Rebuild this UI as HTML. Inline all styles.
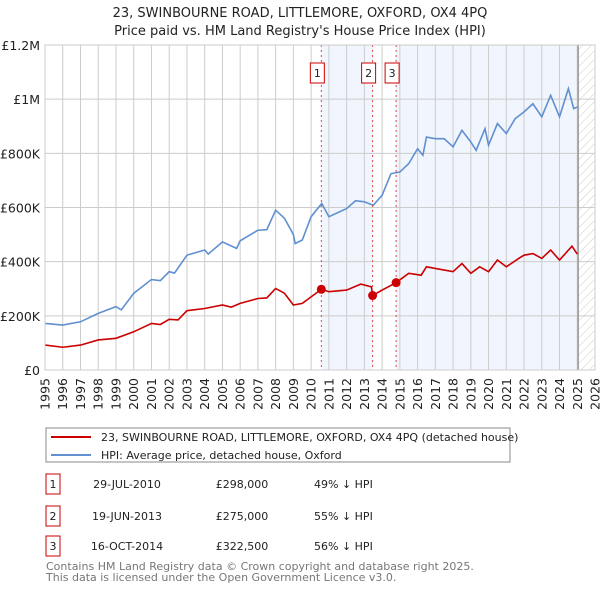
<!DOCTYPE html>
<html><head><meta charset="utf-8"><style>
body{margin:0;background:#fff;font-family:"Liberation Sans","DejaVu Sans",sans-serif;}
svg text{font-family:"DejaVu Sans","Liberation Sans",sans-serif;}
</style></head><body>
<svg id="c" width="600" height="590" xmlns="http://www.w3.org/2000/svg">
<defs><pattern id="hatch" width="6" height="6" patternUnits="userSpaceOnUse" patternTransform="rotate(45)"><line x1="0" y1="0" x2="0" y2="6" stroke="#ccc" stroke-width="1"/></pattern></defs>
<text x="300" y="17" text-anchor="middle" font-size="13" fill="#222">23, SWINBOURNE ROAD, LITTLEMORE, OXFORD, OX4 4PQ</text>
<text x="300" y="35" text-anchor="middle" font-size="13" fill="#222">Price paid vs. HM Land Registry's House Price Index (HPI)</text>
<g id="bg"></g><g id="grid"></g><g id="lines"></g><g id="marks"></g><g id="axes"></g>
<rect x="45" y="45" width="550" height="325" fill="none" stroke="#ccc"/>
<g>
<rect x="46" y="428" width="464" height="34" fill="#fff" stroke="#888"/>
<line x1="51" y1="437" x2="91" y2="437" stroke="#cc0000" stroke-width="2"/>
<text x="101" y="441" font-size="11" fill="#222">23, SWINBOURNE ROAD, LITTLEMORE, OXFORD, OX4 4PQ (detached house)</text>
<line x1="51" y1="455" x2="91" y2="455" stroke="#6090d0" stroke-width="2"/>
<text x="101" y="459" font-size="11" fill="#222">HPI: Average price, detached house, Oxford</text>
</g>
<g id="table" font-size="11" fill="#222"></g>
<text x="46" y="570" font-size="11" fill="#777">Contains HM Land Registry data © Crown copyright and database right 2025.</text>
<text x="46" y="581" font-size="11" fill="#777">This data is licensed under the Open Government Licence v3.0.</text>
</svg>
<script>
const hpiYears=[1995,1996,1997,1998,1999,1999.3,2000,2001,2001.5,2002,2002.3,2003,2004,2004.2,2005,2005.8,2006,2007,2007.5,2008,2008.5,2009,2009.1,2009.5,2010,2010.6,2011,2012,2012.5,2013,2013.5,2014,2014.5,2015,2015.5,2016,2016.3,2016.5,2017,2017.5,2018,2018.5,2019,2019.3,2019.8,2020,2020.5,2021,2021.5,2022,2022.5,2023,2023.5,2024,2024.5,2024.8,2025];
const hpiValues=[172,166,178,209,234,222,283,334,330,363,358,424,443,428,473,449,477,516,518,590,560,500,467,480,566,615,566,596,625,621,608,645,725,731,762,817,793,860,854,854,824,885,842,811,891,830,910,873,928,953,983,935,1014,935,1039,965,971];
const redYears=[1995,1996,1997,1998,1999,2000,2001,2001.5,2002,2002.5,2003,2004,2005,2005.5,2006,2007,2007.5,2008,2008.5,2009,2009.5,2010,2010.58,2011,2012,2012.8,2013.4,2013.46,2014,2014.79,2015.5,2016.2,2016.5,2017,2018,2018.5,2019,2019.5,2020,2020.5,2021,2021.7,2022,2022.5,2023,2023.5,2024,2024.7,2025];
const redValues=[92,84,92,111,117,141,172,168,187,185,219,227,240,232,246,264,266,301,283,240,246,270,298,289,295,317,307,275,295,322.5,357,350,381,375,363,393,357,381,363,406,381,412,424,430,412,443,406,457,428];
const saleLabels=["1","2","3"];
const saleYears=[2010.575,2013.465,2014.79];
const saleDates=["29-JUL-2010","19-JUN-2013","16-OCT-2014"];
const salePrices=[298000,275000,322500];
const salePriceText=["£298,000","£275,000","£322,500"];
const salePct=["49% ↓ HPI","55% ↓ HPI","56% ↓ HPI"];
const yTicks=[0,200000,400000,600000,800000,1000000,1200000];
const yTickLabels=["£0","£200K","£400K","£600K","£800K","£1M","£1.2M"];
const xTicks=[1995,1996,1997,1998,1999,2000,2001,2002,2003,2004,2005,2006,2007,2008,2009,2010,2011,2012,2013,2014,2015,2016,2017,2018,2019,2020,2021,2022,2023,2024,2025,2026];
const dataEnd=2025.05;

const NS="http://www.w3.org/2000/svg";
const X=y=>45+(y-1995)*550/31;
const Y=v=>370-v*325/1200000;
function mk(p,t,a){const e=document.createElementNS(NS,t);for(const k in a)e.setAttribute(k,a[k]);p.appendChild(e);return e;}
const bg=document.getElementById('bg'),grid=document.getElementById('grid'),lines=document.getElementById('lines'),marks=document.getElementById('marks'),axes=document.getElementById('axes'),table=document.getElementById('table');
let r=mk(bg,'rect',{x:X(saleYears[0]),y:45,width:X(saleYears[1])-X(saleYears[0]),height:325,fill:'#f1f5fd'});

r=mk(bg,'rect',{x:X(saleYears[2]),y:45,width:X(dataEnd)-X(saleYears[2]),height:325,fill:'#f1f5fd'});

r=mk(bg,'rect',{x:X(dataEnd),y:45,width:595-X(dataEnd),height:325,fill:'url(#hatch)'});

xTicks.forEach((t,i)=>{
 const l=mk(grid,'line',{x1:X(t),x2:X(t),y1:45,y2:370,stroke:'#ccc'});
 
 const tx=mk(axes,'text',{x:0,y:0,'font-size':12.5,fill:'#222','text-anchor':'end',transform:`translate(${X(t)+4.5},378) rotate(-90)`});
 tx.textContent=t;
});
yTicks.forEach((t,i)=>{
 const l=mk(grid,'line',{x1:45,x2:595,y1:Y(t),y2:Y(t),stroke:'#ccc'});
 
 const tx=mk(axes,'text',{x:40,y:Y(t)+5,'font-size':12.5,fill:'#222','text-anchor':'end'});
 tx.textContent=yTickLabels[i];
});
let l=mk(grid,'line',{x1:X(dataEnd),x2:X(dataEnd),y1:45,y2:370,stroke:'#999','stroke-width':1.5});

let p=mk(lines,'polyline',{points:hpiYears.map((y,i)=>X(y)+','+Y(hpiValues[i]*1000)).join(' '),fill:'none',stroke:'#6090d0','stroke-width':1.6});

p=mk(lines,'polyline',{points:redYears.map((y,i)=>X(y)+','+Y(redValues[i]*1000)).join(' '),fill:'none',stroke:'#cc0000','stroke-width':1.6});

saleYears.forEach((s,i)=>{
 const x=X(s);
 const dl=mk(marks,'line',{x1:x,x2:x,y1:45,y2:370,stroke:'#dd4444','stroke-dasharray':'2,3','stroke-width':1});
 
 const b=mk(marks,'rect',{x:x-11,y:63,width:14,height:20,fill:'#fff',stroke:'#cc0000'});
 
 const t=mk(marks,'text',{x:x-4,y:77,'font-size':11,fill:'#222','text-anchor':'middle'});
 t.textContent=saleLabels[i];
 const c=mk(marks,'circle',{cx:x,cy:Y(salePrices[i]),r:4.5,fill:'#cc0000'});
 
 const ry=[483,515,545][i];
 const tb=mk(table,'rect',{x:46,y:ry-9,width:14,height:20,fill:'#fff',stroke:'#cc0000'});
 
 const cells=[[53,saleLabels[i],'middle'],[127,saleDates[i],'middle'],[242,salePriceText[i],'middle'],[314,salePct[i],'start']];
 cells.forEach(cl=>{const e=mk(table,'text',{x:cl[0],y:ry+5,'text-anchor':cl[2]});e.textContent=cl[1];
  });
});
</script>
</body></html>
